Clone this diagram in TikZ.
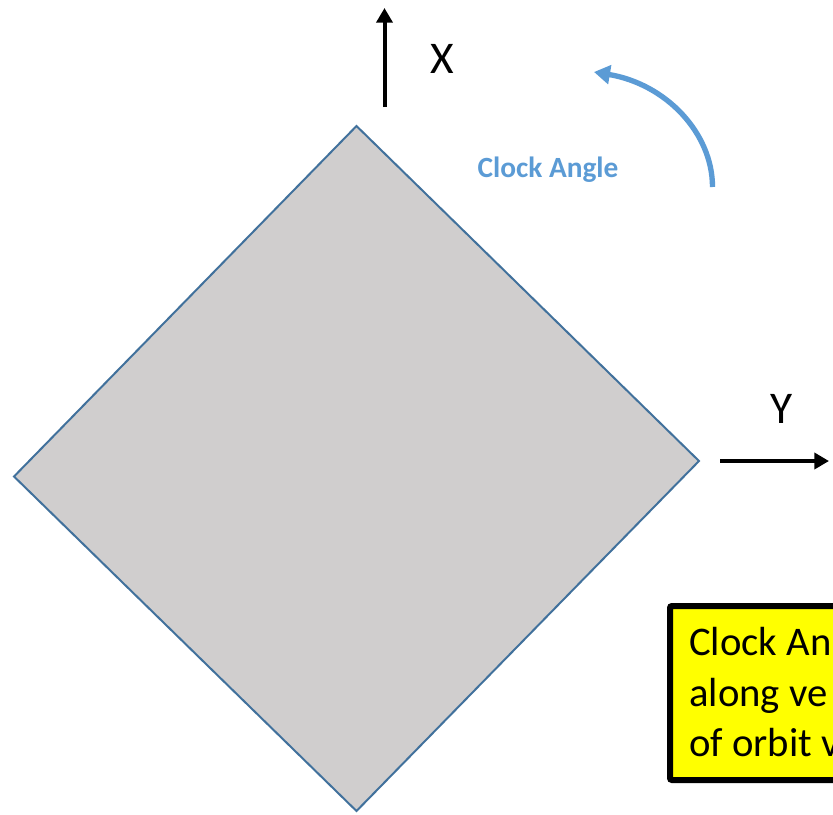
\documentclass[tikz,border=0pt]{standalone}
\usepackage{fontspec}
\setmainfont{Carlito}
\usetikzlibrary{arrows.meta}
\definecolor{shapefill}{HTML}{D0CECE}
\definecolor{shapeline}{HTML}{41719C}
\definecolor{arcblue}{HTML}{5B9BD5}
\definecolor{noteyellow}{HTML}{FFFF00}
\tikzset{
  axisarrow/.style={line width=3pt,-{Triangle[length=11pt,width=12pt]}},
  axislabel/.style={font=\fontsize{34pt}{40pt}\selectfont,inner sep=0pt},
  notetext/.style={font=\fontsize{30.5pt}{37pt}\selectfont,anchor=base west,inner sep=0pt},
}
\begin{document}
\begin{tikzpicture}[x=0.75pt,y=-0.75pt]
\clip (0,0) rectangle (833,815);
\useasboundingbox (0,0) rectangle (833,815);
% diamond
\coordinate (dt) at (356.5,126);
\coordinate (dr) at (699,461);
\coordinate (db) at (356.5,811);
\coordinate (dl) at (14,476.5);
\draw[shapeline,fill=shapefill,line width=1.5pt,line join=miter] (dt) -- (dr) -- (db) -- (dl) -- cycle;
% X axis
\coordinate (xs) at (384.5,107);
\coordinate (xe) at (384.5,8);
\draw[axisarrow] (xs) -- (xe);
\node[axislabel] (xlab) at (442,59) {X};
% Y axis
\coordinate (ys) at (720,461);
\coordinate (ye) at (829,461);
\draw[axisarrow] (ys) -- (ye);
\node[axislabel] (ylab) at (782,409) {Y};
% clock angle arc
\coordinate (as) at (712.5,187);
\coordinate (ae) at (594,72);
\draw[arcblue,line width=4pt,-{Triangle[length=12pt,width=14pt]}] (as) .. controls (712.5,133) and (666,84) .. (ae);
\node[text=arcblue,font=\bfseries\fontsize{22pt}{26pt}\selectfont,inner sep=0pt] (clab) at (548,170) {Clock Angle};
% note box
\draw[black,fill=noteyellow,line width=4.5pt,rounded corners=1.5pt] (670,606) rectangle (900,780);
\node[notetext] (n1) at (689,655) {Clock An};
\node[notetext] (n2) at (689,706) {along ve};
\node[notetext] (n3) at (689,756) {of orbit v};
\end{tikzpicture}
\end{document}
